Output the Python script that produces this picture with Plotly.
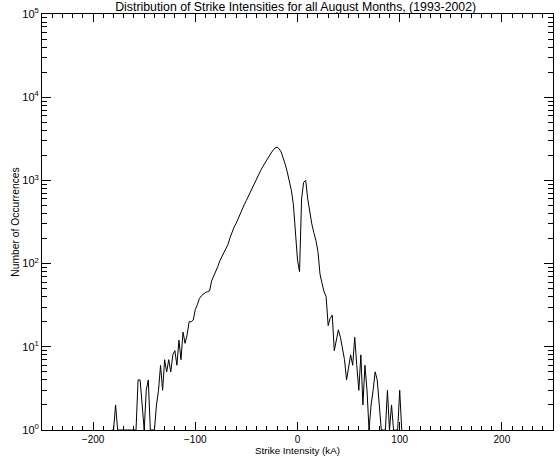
import plotly.graph_objects as go

# Lightning strike peak current histogram, 2 kA bins
intensity_ka = list(range(-182, 104, 2))
occurrences = [
    1, 1, 2, 1, 1, 1, 1, 1, 1, 1, 1, 1, 1,            # -182 .. -158
    4, 4, 2, 1, 3, 4, 1, 1, 1,                          # -156 .. -140
    2, 3, 6, 3, 7, 5, 7, 5, 8, 9, 6, 12, 7, 15, 11, 14, # -138 .. -108
    20, 20, 21, 28, 32, 38, 41, 43, 45, 46, 47,         # -106 .. -86
    62, 70, 80, 92, 108, 122, 138, 158, 170, 205,       # -84 .. -66
    240, 275, 305, 350, 395, 450, 515, 575, 650, 740,   # -64 .. -46
    830, 940, 1050, 1180, 1320, 1460, 1620, 1780,       # -44 .. -30
    1950, 2120, 2300, 2450, 2520, 2400, 2200, 1900,     # -28 .. -14
    1560, 1260, 980, 760, 510, 260, 110, 80,            # -12 .. 2
    600, 950, 1000, 600, 400, 300, 235, 190, 140,       # 4 .. 20
    75, 58, 46, 40, 18, 22, 24, 9, 12, 16, 13, 9, 7,    # 22 .. 46
    4, 6, 8, 6, 13, 6, 3, 8, 2, 6, 3, 1, 2, 3, 5, 4,    # 48 .. 78
    2, 1, 1, 1, 3, 1, 2, 1, 1, 1, 3, 1,                 # 80 .. 102
]

x_tick_vals = [-200, -100, 0, 100, 200]
y_tick_vals = [1, 10, 100, 1000, 10000, 100000]
y_tick_text = ["10<sup>%d</sup>" % i for i in range(6)]
y_minor_vals = [m * 10 ** d for d in range(5) for m in range(2, 10)]

fig = go.Figure(
    go.Scatter(
        x=intensity_ka,
        y=occurrences,
        mode="lines",
        line=dict(color="black", width=1),
        showlegend=False,
    )
)

font_family = "Liberation Sans, Arial, sans-serif"

fig.update_layout(
    width=560,
    height=461,
    margin=dict(l=42, r=6, t=13, b=29),
    paper_bgcolor="white",
    plot_bgcolor="white",
    font=dict(family=font_family, size=10, color="black"),
    title=dict(
        text="Distribution of Strike Intensities for all August Months, (1993-2002)",
        x=0.528,
        xanchor="center",
        y=0.986,
        yanchor="middle",
        yref="container",
        font=dict(size=12.3, color="black"),
    ),
)

fig.update_xaxes(
    range=[-250, 250],
    tickmode="array",
    tickvals=x_tick_vals,
    ticks="inside",
    ticklen=8,
    tickwidth=1,
    tickcolor="black",
    showline=True,
    linecolor="black",
    linewidth=1,
    mirror="ticks",
    showgrid=False,
    zeroline=False,
    tickfont=dict(size=10),
    minor=dict(tickmode="linear", tick0=0, dtick=10, ticks="inside",
               ticklen=4, tickcolor="black", showgrid=False),
    title=dict(text="Strike Intensity (kA)", font=dict(size=9.8), standoff=3),
)

fig.update_yaxes(
    type="log",
    range=[0, 5],
    tickmode="array",
    tickvals=y_tick_vals,
    ticktext=y_tick_text,
    ticks="inside",
    ticklen=9,
    tickwidth=1,
    tickcolor="black",
    showline=True,
    linecolor="black",
    linewidth=1,
    mirror="ticks",
    showgrid=False,
    zeroline=False,
    tickfont=dict(size=11),
    minor=dict(tickmode="array", tickvals=y_minor_vals, ticks="inside",
               ticklen=5, tickcolor="black", showgrid=False),
    title=dict(text="Number of Occurrences", font=dict(size=10.3), standoff=0),
)

fig.write_html("out.html")
